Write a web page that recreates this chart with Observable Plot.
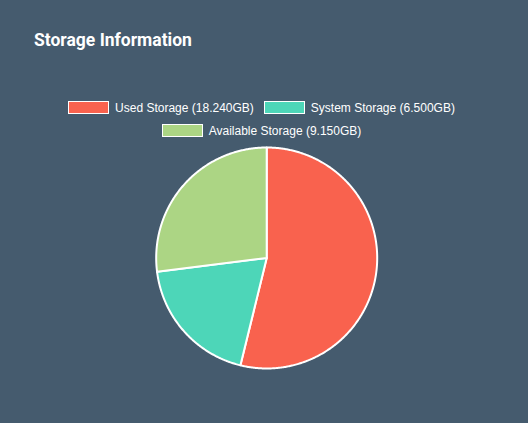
<!DOCTYPE html>
<html>
<head>
<meta charset="utf-8">
<script src="https://cdn.jsdelivr.net/npm/d3@7"></script>
<script src="https://cdn.jsdelivr.net/npm/@observablehq/plot@0.6"></script>
<style>
  html, body { margin: 0; padding: 0; background: #455b6e; }
  #wrap { position: relative; width: 528px; height: 423px; background: #455b6e; overflow: hidden; }
  #title { position: absolute; left: 34px; top: 30px; font-family: Roboto, sans-serif; font-weight: 700; font-size: 17.5px; color: #ffffff; white-space: nowrap; }
  #legend { position: absolute; left: 0; top: 96px; width: 523px; text-align: center; font-family: "Liberation Sans", Arial, sans-serif; font-size: 12px; color: #ffffff; line-height: 22px; }
  .row { display: flex; justify-content: center; align-items: center; height: 23px; }
  .item { display: flex; align-items: center; margin: 0 5px; white-space: nowrap; }
  .sw { width: 39px; height: 11px; border: 1px solid #ffffff; margin-right: 6px; }
  #chart { position: absolute; left: 0; top: 0; }
</style>
</head>
<body>
<div id="wrap">
  <div id="chart"></div>
  <div id="title">Storage Information</div>
  <div id="legend"></div>
</div>
<script>
const categories = ["Used Storage", "System Storage", "Available Storage"];
const values = [18.24, 6.5, 9.15];
const colors = ["#f9624e", "#4dd6b8", "#acd584"];
const legendLabels = ["Used Storage (18.240GB)", "System Storage (6.500GB)", "Available Storage (9.150GB)"];

// legend (HTML, above the SVG)
const legend = document.getElementById("legend");
const rows = [[0, 1], [2]];
for (const r of rows) {
  const row = document.createElement("div");
  row.className = "row";
  for (const i of r) {
    const item = document.createElement("div");
    item.className = "item";
    const sw = document.createElement("div");
    sw.className = "sw";
    sw.style.background = colors[i];
    const t = document.createElement("span");
    t.textContent = legendLabels[i];
    item.appendChild(sw);
    item.appendChild(t);
    row.appendChild(item);
  }
  legend.appendChild(row);
}

// pie slices as closed polygons computed from d3.pie angles
const arcs = d3.pie().sort(null).value(d => d)(values);
const pts = [];
arcs.forEach((a, i) => {
  pts.push({slice: categories[i], x: 0, y: 0});
  const n = Math.max(2, Math.ceil((a.endAngle - a.startAngle) / (Math.PI / 360)));
  for (let k = 0; k <= n; k++) {
    const t = a.startAngle + (a.endAngle - a.startAngle) * k / n;
    pts.push({slice: categories[i], x: Math.sin(t), y: Math.cos(t)});
  }
});

const plot = Plot.plot({
  width: 528,
  height: 423,
  marginLeft: 155.7,
  marginRight: 151.3,
  marginTop: 147,
  marginBottom: 55,
  x: {domain: [-1, 1], axis: null},
  y: {domain: [-1, 1], axis: null},
  color: {domain: categories, range: colors},
  style: {background: "transparent", overflow: "visible"},
  marks: [
    Plot.line(pts, {x: "x", y: "y", z: "slice", fill: "slice", stroke: "#ffffff", strokeWidth: 2, curve: "linear-closed", strokeLinejoin: "round"})
  ]
});
document.getElementById("chart").appendChild(plot);
</script>
</body>
</html>
